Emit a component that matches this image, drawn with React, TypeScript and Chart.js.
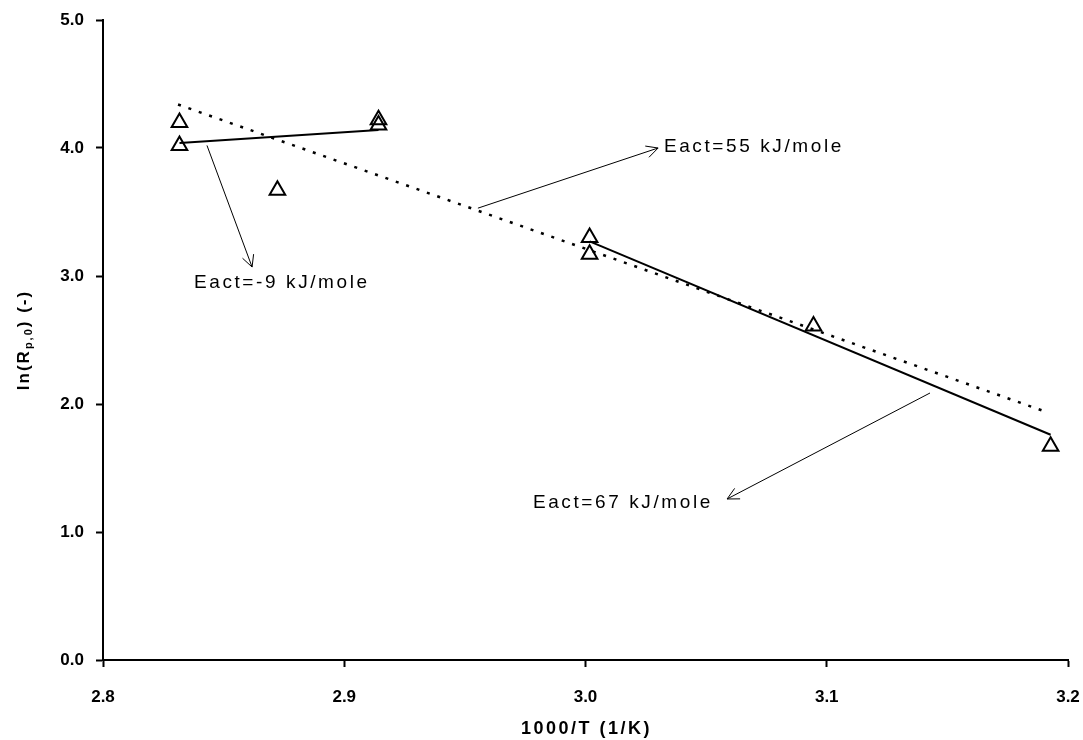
import React, { useEffect, useRef } from 'react';
import { Chart, registerables } from 'chart.js';

Chart.register(...registerables);

// Measured points: 1000/T (1/K) vs ln(Rp,0)
const invT = [2.8317, 2.8317, 2.8723, 2.9142, 2.9142, 3.0017, 3.0017, 3.0945, 3.1928];
const lnRp0 = [4.2, 4.02, 3.67, 4.22, 4.18, 3.3, 3.17, 2.61, 1.67];

// Fitted lines
const fitLowX = [2.8317, 2.9142];
const fitLowY = [4.04, 4.14];
const fitAllX = [2.8311, 3.1892];
const fitAllY = [4.34, 1.95];
const fitHighX = [3.0017, 3.1928];
const fitHighY = [3.27, 1.76];

// Axis ranges / ticks
const xMin = 2.8;
const xMax = 3.2;
const xStep = 0.1;
const yMin = 0;
const yMax = 5;
const yStep = 1;
const xTitle = '1000/T (1/K)';
const yTitleParts = ['ln(R', 'p,0', ') (-)'];

// Annotations (data coordinates)
const noteText = ['Eact=-9 kJ/mole', 'Eact=55 kJ/mole', 'Eact=67 kJ/mole'];
const noteFromX = [2.8431, 2.9554, 3.1428];
const noteFromY = [4.02, 3.53, 2.086];
const noteToX = [2.8618, 3.0301, 3.0587];
const noteToY = [3.07, 4.0, 1.258];
const noteLabelX = [2.8377, 3.0325, 3.0528];
const noteLabelY = [2.945, 4.01, 1.227];
const noteAlign = ['left', 'left', 'right'];

const FONT = '"Liberation Sans", Arial, sans-serif';

const zip = (xs: number[], ys: number[]) => xs.map((x, i) => ({ x, y: ys[i] }));

const overlay = {
  id: 'overlay',
  afterDraw(chart: any) {
    const ctx: CanvasRenderingContext2D = chart.ctx;
    const xs = chart.scales.x;
    const ys = chart.scales.y;
    const area = chart.chartArea;
    ctx.save();
    ctx.strokeStyle = '#000';
    ctx.fillStyle = '#000';
    ctx.lineWidth = 1;
    for (let i = 0; i < noteText.length; i++) {
      const x1 = xs.getPixelForValue(noteFromX[i]);
      const y1 = ys.getPixelForValue(noteFromY[i]);
      const x2 = xs.getPixelForValue(noteToX[i]);
      const y2 = ys.getPixelForValue(noteToY[i]);
      ctx.beginPath();
      ctx.moveTo(x1, y1);
      ctx.lineTo(x2, y2);
      const ang = Math.atan2(y2 - y1, x2 - x1);
      const L = 13;
      const a = (27 * Math.PI) / 180;
      ctx.moveTo(x2 - L * Math.cos(ang - a), y2 - L * Math.sin(ang - a));
      ctx.lineTo(x2, y2);
      ctx.lineTo(x2 - L * Math.cos(ang + a), y2 - L * Math.sin(ang + a));
      ctx.stroke();
      (ctx as any).letterSpacing = '2.6px';
      ctx.font = `19px ${FONT}`;
      ctx.textBaseline = 'middle';
      ctx.textAlign = 'left';
      const lx = xs.getPixelForValue(noteLabelX[i]);
      const ly = ys.getPixelForValue(noteLabelY[i]);
      const w = ctx.measureText(noteText[i]).width;
      const sx = noteAlign[i] === 'right' ? lx - w : lx;
      ctx.fillText(noteText[i], sx, ly);
    }
    // x title
    (ctx as any).letterSpacing = '2.5px';
    ctx.font = `bold 18px ${FONT}`;
    ctx.textBaseline = 'middle';
    ctx.textAlign = 'left';
    const tw = ctx.measureText(xTitle).width;
    ctx.fillText(xTitle, (area.left + area.right) / 2 - tw / 2 + 1, 729);
    // y title with subscript
    (ctx as any).letterSpacing = '2px';
    const fBig = `bold 17px ${FONT}`;
    const fSmall = `bold 11px ${FONT}`;
    ctx.font = fBig;
    const w0 = ctx.measureText(yTitleParts[0]).width;
    const w2 = ctx.measureText(yTitleParts[2]).width;
    ctx.font = fSmall;
    const w1 = ctx.measureText(yTitleParts[1]).width;
    const total = w0 + w1 + w2;
    ctx.translate(24, (area.top + area.bottom) / 2);
    ctx.rotate(-Math.PI / 2);
    let cx = -total / 2;
    ctx.font = fBig;
    ctx.fillText(yTitleParts[0], cx, 0);
    cx += w0;
    ctx.font = fSmall;
    ctx.fillText(yTitleParts[1], cx, 5);
    cx += w1;
    ctx.font = fBig;
    ctx.fillText(yTitleParts[2], cx, 0);
    ctx.restore();
  },
};

export default function App() {
  const ref = useRef<HTMLCanvasElement | null>(null);
  useEffect(() => {
    document.body.style.margin = '0';
    const canvas = ref.current;
    if (!canvas) return;
    Chart.defaults.font.family = FONT;
    const lineBase = {
      showLine: true,
      pointRadius: 0,
      pointHoverRadius: 0,
      borderColor: '#000',
      backgroundColor: '#000',
      fill: false,
      tension: 0,
    };
    const tickFont = { family: FONT, size: 17, weight: 'bold' };
    const chart = new Chart(canvas, {
      type: 'scatter',
      data: {
        datasets: [
          {
            label: 'data',
            data: zip(invT, lnRp0),
            pointStyle: 'triangle',
            pointRadius: 9,
            borderColor: '#000',
            backgroundColor: 'rgba(0,0,0,0)',
            pointBorderWidth: 2,
            showLine: false,
            order: 0,
          } as any,
          { ...lineBase, label: 'low', data: zip(fitLowX, fitLowY), borderWidth: 2, order: 1 } as any,
          { ...lineBase, label: 'all', data: zip(fitAllX, fitAllY), borderWidth: 2.5, borderDash: [3, 8], order: 1 } as any,
          { ...lineBase, label: 'high', data: zip(fitHighX, fitHighY), borderWidth: 2, order: 1 } as any,
        ],
      },
      options: {
        animation: false,
        responsive: false,
        devicePixelRatio: 1,
        layout: { padding: { left: 0, top: 20, right: 15, bottom: 0 } },
        plugins: { legend: { display: false }, tooltip: { enabled: false }, title: { display: false } },
        scales: {
          x: {
            type: 'linear',
            min: xMin,
            max: xMax,
            afterFit: (s: any) => {
              s.height = 80;
              s.paddingLeft = 0;
              s.paddingRight = 0;
            },
            ticks: {
              stepSize: xStep,
              autoSkip: false,
              maxRotation: 0,
              padding: 20,
              color: '#000',
              font: tickFont,
              callback: (v: any) => Number(v).toFixed(1),
            },
            grid: { drawOnChartArea: false, drawTicks: true, tickLength: 7, tickWidth: 2, tickColor: '#000' },
            border: { display: true, color: '#000', width: 2 },
          },
          y: {
            type: 'linear',
            min: yMin,
            max: yMax,
            afterFit: (s: any) => {
              s.width = 103;
              s.paddingTop = 0;
              s.paddingBottom = 0;
            },
            ticks: {
              stepSize: yStep,
              padding: 12,
              color: '#000',
              font: tickFont,
              callback: (v: any) => Number(v).toFixed(1),
            },
            grid: { drawOnChartArea: false, drawTicks: true, tickLength: 7, tickWidth: 2, tickColor: '#000' },
            border: { display: true, color: '#000', width: 2 },
          },
        },
      },
      plugins: [overlay],
    } as any);
    return () => chart.destroy();
  }, []);
  return (
    <div style={{ width: 1083, height: 740 }}>
      <canvas ref={ref} width={1083} height={740} />
    </div>
  );
}
